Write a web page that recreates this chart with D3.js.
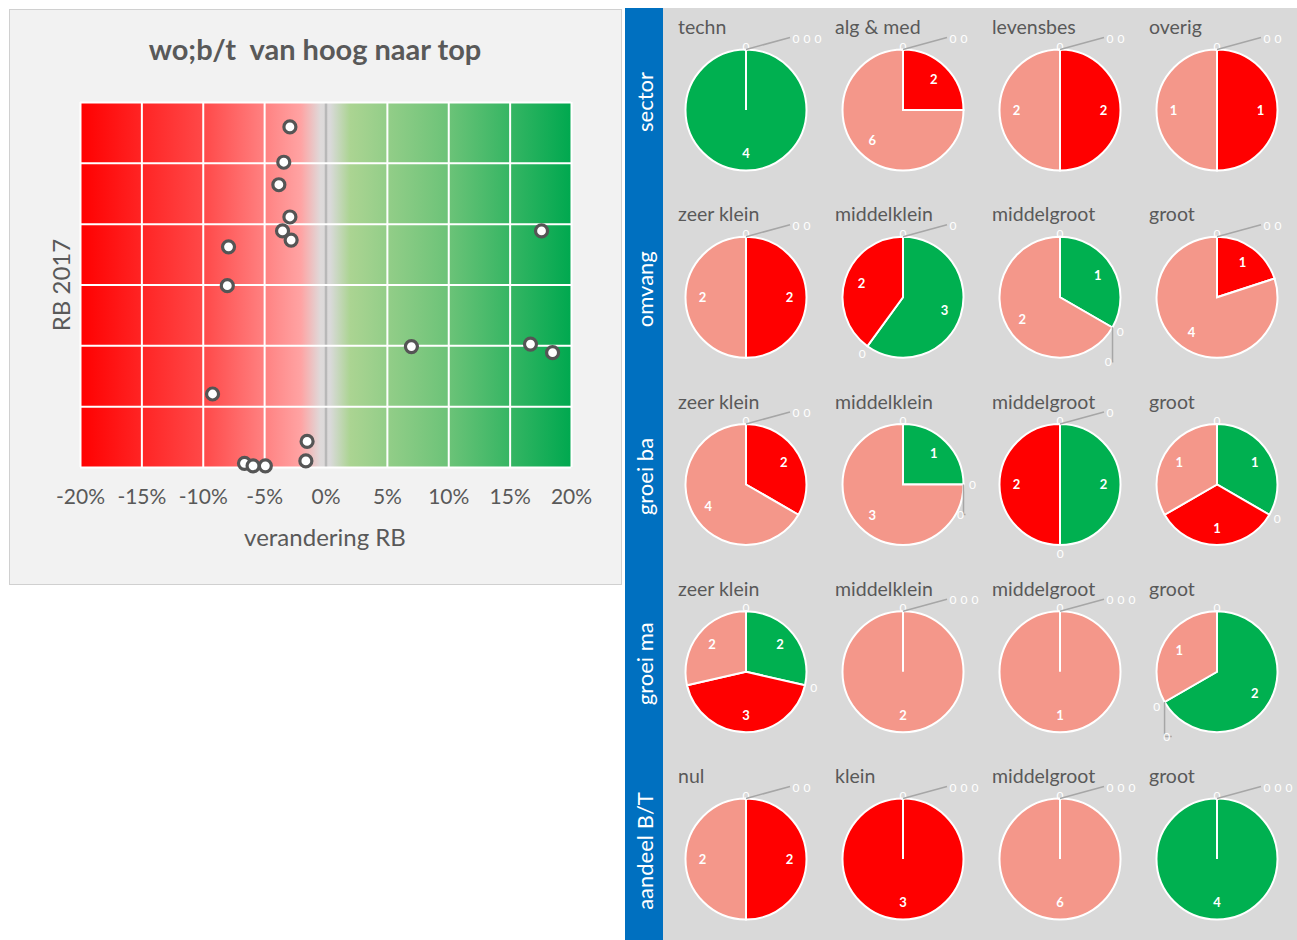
<!DOCTYPE html>
<html>
<head>
<meta charset="utf-8">
<script src="https://cdnjs.cloudflare.com/ajax/libs/d3/7.8.5/d3.min.js"></script>
<style>
  body { margin: 0; background: #ffffff; }
  svg { display: block; font-family: Lato, "Open Sans", sans-serif; }
</style>
</head>
<body>
<div id="graphic"></div>
<script>
// Scatter data: verandering RB (fraction) and RB 2017 (no labels on axis)
const changeRB = [-0.029, -0.034, -0.038, -0.029, -0.035, -0.028, -0.079, -0.080, 0.176,
                  0.070, 0.167, 0.185, -0.092, -0.015, -0.016, -0.066, -0.059, -0.049];
const rb2017 = [55.9, 50.1, 46.4, 41.1, 38.8, 37.3, 36.2, 29.8, 38.8,
                19.8, 20.2, 18.8, 12.0, 4.2, 1.0, 0.6, 0.2, 0.2];
const xTicks = [-0.2, -0.15, -0.1, -0.05, 0, 0.05, 0.1, 0.15, 0.2];
const yTicks = [0, 10, 20, 30, 40, 50, 60];

// Pie grid data
const rowNames = ["sector", "omvang", "groei ba", "groei ma", "aandeel B/T"];
const colNames = [
    ["techn", "alg & med", "levensbes", "overig"],
    ["zeer klein", "middelklein", "middelgroot", "groot"],
    ["zeer klein", "middelklein", "middelgroot", "groot"],
    ["zeer klein", "middelklein", "middelgroot", "groot"],
    ["nul", "klein", "middelgroot", "groot"]
];
const categories = ["nieuw", "stijger", "gelijk", "sterke daler", "daler"];
const sectorValues = [[0, 4, 0, 0, 0], [0, 0, 0, 2, 6], [0, 0, 0, 2, 2], [0, 0, 0, 1, 1]];
const omvangValues = [[0, 0, 0, 2, 2], [0, 3, 0, 2, 0], [0, 1, 0, 0, 2], [0, 0, 0, 1, 4]];
const groeiBaValues = [[0, 0, 0, 2, 4], [0, 1, 0, 0, 3], [0, 2, 0, 2, 0], [0, 1, 0, 1, 1]];
const groeiMaValues = [[0, 2, 0, 3, 2], [0, 0, 0, 0, 2], [0, 0, 0, 0, 1], [0, 2, 0, 0, 1]];
const aandeelValues = [[0, 0, 0, 2, 2], [0, 0, 0, 3, 0], [0, 0, 0, 0, 6], [0, 4, 0, 0, 0]];
const pieValues = [sectorValues, omvangValues, groeiBaValues, groeiMaValues, aandeelValues];

const catColor = d3.scaleOrdinal()
    .domain(categories)
    .range(["#bfbfbf", "#00b050", "#bfbfbf", "#ff0000", "#f4978a"]);

const svg = d3.select("#graphic")
    .append("svg")
    .attr("width", 1297)
    .attr("height", 940);

// ---------- Left panel: scatter ----------
svg.append("rect")
    .attr("x", 9.5).attr("y", 9.5)
    .attr("width", 612).attr("height", 575)
    .attr("fill", "#f2f2f2")
    .attr("stroke", "#d0d0d0");

const x = d3.scaleLinear().domain([-0.2, 0.2]).range([80, 571]);
const y = d3.scaleLinear().domain([0, 60]).range([467, 102]);

// Background gradient red -> grey -> green
const defs = svg.append("defs");
const grad = defs.append("linearGradient")
    .attr("id", "bg")
    .attr("x1", "0%").attr("x2", "100%")
    .attr("y1", "0%").attr("y2", "0%");
[[0, "#ff0000"], [0.25, "#ff4848"], [0.45, "#ffa3a3"], [0.49, "#dedada"], [0.51, "#d9d9d9"],
 [0.55, "#abd492"], [0.75, "#6cc378"], [1, "#00a84f"]]
    .forEach(s => grad.append("stop").attr("offset", s[0]).attr("stop-color", s[1]));

svg.append("rect")
    .attr("x", x(-0.2)).attr("y", y(60))
    .attr("width", x(0.2) - x(-0.2))
    .attr("height", y(0) - y(60))
    .attr("fill", "url(#bg)");

// Gridlines
svg.append("g")
    .attr("transform", "translate(0," + y(0) + ")")
    .call(d3.axisBottom(x).tickValues(xTicks).tickSize(-(y(0) - y(60))).tickFormat(""))
    .call(g => g.select(".domain").remove())
    .call(g => g.selectAll("line")
        .attr("stroke", d => d === 0 ? "#b8b8b8" : "#ffffff")
        .attr("stroke-width", d => d === 0 ? 2.5 : 2));

svg.append("g")
    .attr("transform", "translate(" + x(-0.2) + ",0)")
    .call(d3.axisLeft(y).tickValues(yTicks).tickSize(-(x(0.2) - x(-0.2))).tickFormat(""))
    .call(g => g.select(".domain").remove())
    .call(g => g.selectAll("line").attr("stroke", "#ffffff").attr("stroke-width", 2));

// X axis labels
svg.append("g")
    .attr("transform", "translate(0," + y(0) + ")")
    .call(d3.axisBottom(x).tickValues(xTicks).tickSize(0).tickPadding(22)
        .tickFormat(d => Math.round(d * 100) + "%"))
    .call(g => g.select(".domain").remove())
    .call(g => g.selectAll("text")
        .attr("fill", "#595959")
        .attr("font-size", 21)
        .attr("font-family", "Lato, sans-serif"));

// Points
svg.selectAll(".dot")
    .data(changeRB.map((c, i) => [c, rb2017[i]]))
    .enter()
    .append("circle")
    .attr("class", "dot")
    .attr("cx", d => x(d[0]))
    .attr("cy", d => y(d[1]))
    .attr("r", 6)
    .attr("fill", "#ffffff")
    .attr("stroke", "#555555")
    .attr("stroke-width", 3.2);

// Titles
svg.append("text")
    .attr("x", 315).attr("y", 60)
    .attr("text-anchor", "middle")
    .attr("font-size", 29)
    .attr("font-weight", "bold")
    .attr("fill", "#595959")
    .style("white-space", "pre")
    .text("wo;b/t  van hoog naar top");

svg.append("text")
    .attr("x", 325).attr("y", 546)
    .attr("text-anchor", "middle")
    .attr("font-size", 24)
    .attr("fill", "#595959")
    .text("verandering RB");

svg.append("text")
    .attr("transform", "translate(70,285) rotate(-90)")
    .attr("text-anchor", "middle")
    .attr("font-size", 24)
    .attr("fill", "#595959")
    .text("RB 2017");

// ---------- Right panel: pies ----------
svg.append("rect")
    .attr("x", 625).attr("y", 8)
    .attr("width", 672).attr("height", 932)
    .attr("fill", "#d9d9d9");

svg.append("rect")
    .attr("x", 625).attr("y", 8)
    .attr("width", 38).attr("height", 932)
    .attr("fill", "#0070c0");

const colX = d3.scaleLinear().domain([0, 3]).range([746, 1217]);
const rowY = d3.scaleLinear().domain([0, 4]).range([110, 859]);
const r = 60.5;

const pie = d3.pie().sort(null).value(d => d.v);
const arc = d3.arc().innerRadius(0).outerRadius(r);
const labelArc = d3.arc().innerRadius(r * 0.72).outerRadius(r * 0.72);

rowNames.forEach((rowName, ri) => {
    const cy = rowY(ri);

    svg.append("text")
        .attr("transform", "translate(653," + (cy - 8) + ") rotate(-90)")
        .attr("text-anchor", "middle")
        .attr("font-size", 22)
        .attr("fill", "#ffffff")
        .text(rowName);

    colNames[ri].forEach((colName, ci) => {
        const cx = colX(ci);
        const g = svg.append("g").attr("transform", "translate(" + cx + "," + cy + ")");

        svg.append("text")
            .attr("x", cx - 68).attr("y", cy - 76)
            .attr("font-size", 19.5)
            .attr("fill", "#595959")
            .text(colName);

        const slices = pie(pieValues[ri][ci].map((v, k) => ({ cat: categories[k], v: v })));
        const filled = slices.filter(d => d.data.v > 0);

        g.selectAll("path")
            .data(filled)
            .enter()
            .append("path")
            .attr("d", arc)
            .attr("fill", d => catColor(d.data.cat))
            .attr("stroke", "#ffffff")
            .attr("stroke-width", 2);

        // a single full slice still shows its edge at 12 o'clock
        if (filled.length === 1) {
            g.append("line")
                .attr("x1", 0).attr("y1", 0)
                .attr("x2", 0).attr("y2", -r)
                .attr("stroke", "#ffffff")
                .attr("stroke-width", 2);
        }

        g.selectAll(".val")
            .data(filled)
            .enter()
            .append("text")
            .attr("class", "val")
            .attr("transform", d => "translate(" + labelArc.centroid(d) + ")")
            .attr("text-anchor", "middle")
            .attr("dy", "0.35em")
            .attr("font-size", 13)
            .attr("font-weight", "bold")
            .attr("fill", "#ffffff")
            .text(d => d.data.v);

        // zero labels, grouped by the angle they sit on
        const groups = d3.groups(slices.filter(d => d.data.v === 0),
            d => Math.round(((d.startAngle % (2 * Math.PI)) * 100)) / 100);
        groups.forEach(([a, items]) => {
            const top = a === 0;
            const px = Math.sin(a) * (r + 9);
            const py = top ? -r - 3 : -Math.cos(a) * (r + 9);
            items.forEach((d, k) => {
                let lx = px, ly = py;
                if (k > 0) {
                    if (top) {
                        lx = 50 + (k - 1) * 11;
                        ly = -r - 11;
                    } else {
                        lx = px + (a > Math.PI ? 10 : -12) * k;
                        ly = py + 30 * k;
                    }
                    if (k === 1) {
                        g.append("path")
                            .attr("d", top
                                ? "M0," + (-r) + "L" + (lx - 6) + "," + (ly - 1)
                                : "M" + (Math.sin(a) * r) + "," + (-Math.cos(a) * r) +
                                  "L" + (Math.sin(a) * r) + "," + ly + "L" + (lx + 5) + "," + ly)
                            .attr("fill", "none")
                            .attr("stroke", "#a6a6a6")
                            .attr("stroke-width", 1.5);
                    }
                }
                g.append("text")
                    .attr("x", lx).attr("y", ly)
                    .attr("text-anchor", "middle")
                    .attr("dy", "0.35em")
                    .attr("font-size", 12)
                    .attr("fill", "#ffffff")
                    .text(d.data.v);
            });
        });
    });
});
</script>
</body>
</html>
